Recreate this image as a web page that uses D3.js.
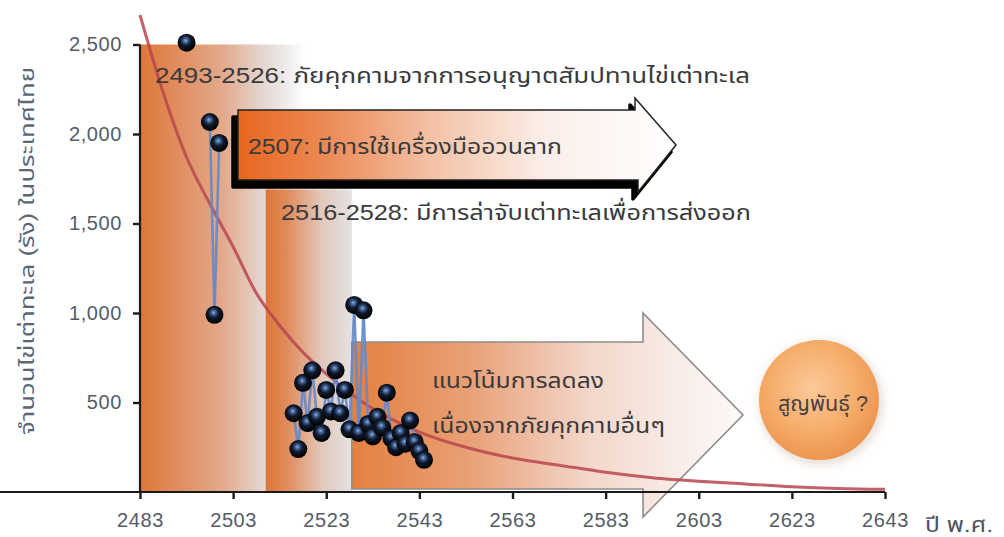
<!DOCTYPE html>
<html>
<head>
<meta charset="utf-8">
<script src="https://cdn.jsdelivr.net/npm/d3@7"></script>
<style>
  body { margin: 0; background: #fff; }
  svg { display: block; }
  text { font-family: "Liberation Sans", Arial, "Noto Sans Thai", Loma, Garuda, sans-serif; }
</style>
</head>
<body>
<svg id="chart" width="1004" height="537"></svg>
<script>
// Axis ticks
const xTicks = [2483, 2503, 2523, 2543, 2563, 2583, 2603, 2623, 2643];
const yTicks = [500, 1000, 1500, 2000, 2500];

// Sea turtle nests counted per year (B.E.)
const nestYears = [2493, 2498, 2499, 2500,
  2516, 2517, 2518, 2519, 2520, 2521, 2522, 2523, 2524, 2525, 2526, 2527, 2528, 2529, 2530,
  2531, 2532, 2533, 2534, 2535, 2536, 2537, 2538, 2539, 2540, 2541, 2542, 2543, 2544];
const nestCounts = [2510, 2067, 990, 1950,
  440, 240, 610, 385, 680, 420, 330, 570, 450, 680, 440, 570, 350, 1045, 330,
  1015, 380, 310, 420, 360, 555, 300, 250, 330, 270, 400, 280, 230, 180];

// Declining trend line
const trendYears = [2483, 2488, 2493, 2498, 2503, 2508, 2513, 2518, 2523, 2528, 2533, 2538, 2543,
  2553, 2563, 2573, 2583, 2593, 2603, 2613, 2623, 2633, 2643];
const trendValues = [2665, 2230, 1870, 1610, 1370, 1110, 930, 780, 660, 555, 465, 395, 335,
  250, 190, 150, 110, 80, 60, 45, 30, 20, 15];

// Shaded threat periods: start year, end of fade, top value
const periodStart = [2483, 2510];
const periodEnd = [2518.5, 2528.5];
const periodTop = [2500, 1690];

const annotations = [
  "2493-2526: ภัยคุกคามจากการอนุญาตสัมปทานไข่เต่าทะเล",
  "2507: มีการใช้เครื่องมืออวนลาก",
  "2516-2528: มีการล่าจับเต่าทะเลเพื่อการส่งออก",
  "แนวโน้มการลดลง",
  "เนื่องจากภัยคุกคามอื่นๆ",
  "สูญพันธุ์ ?"
];
const yLabel = "จำนวนไข่เต่าทะเล (รัง) ในประเทศไทย";
const xLabel = "ปี พ.ศ.";

const svg = d3.select("#chart");
const x = d3.scaleLinear().domain([2483, 2643]).range([140, 885]);
const y = d3.scaleLinear().domain([0, 2500]).range([492, 44.5]);

const defs = svg.append("defs");
function linGrad(id, stops) {
  const g = defs.append("linearGradient").attr("id", id)
    .attr("x1", "0%").attr("x2", "100%").attr("y1", "0%").attr("y2", "0%");
  stops.forEach(([o, c]) => g.append("stop").attr("offset", o).attr("stop-color", c));
}
linGrad("band0", [[0, "#dd7638"], [0.12, "#df834d"], [0.5, "#e3a98b"], [0.72, "#e4d3cb"], [0.86, "#ebe8e7"], [1, "#ffffff"]]);
linGrad("band1", [[0, "#de7637"], [0.25, "#e08c5d"], [0.65, "#e2c8bb"], [1, "#e4e2e2"]]);
linGrad("trend", [[0, "#e4803f"], [0.3, "#e9a076"], [0.6, "#f3d6c9"], [0.85, "#f9eeea"], [1, "#fdf8f7"]]);
linGrad("trawl", [[0, "#e8661f"], [0.2, "#ec8a55"], [0.45, "#f4c3a8"], [0.7, "#fbeee8"], [1, "#ffffff"]]);

const rg = defs.append("radialGradient").attr("id", "egg").attr("cx", "45%").attr("cy", "38%").attr("r", "58%");
[[0, "#8fb0de"], [0.22, "#3f5f92"], [0.5, "#111a2c"], [1, "#000"]]
  .forEach(([o, c]) => rg.append("stop").attr("offset", o).attr("stop-color", c));

const cg = defs.append("radialGradient").attr("id", "ball").attr("cx", "45%").attr("cy", "40%").attr("r", "60%");
[[0, "#fcc99a"], [0.6, "#f6ad6b"], [1, "#ec9550"]]
  .forEach(([o, c]) => cg.append("stop").attr("offset", o).attr("stop-color", c));

defs.append("filter").attr("id", "soft").attr("x", "-30%").attr("y", "-30%").attr("width", "160%").attr("height", "160%")
  .append("feGaussianBlur").attr("stdDeviation", 4);
defs.append("filter").attr("id", "slight")
  .append("feGaussianBlur").attr("stdDeviation", 0.6);

// Shaded periods
periodStart.forEach((s, i) => {
  svg.append("rect")
    .attr("x", x(s)).attr("y", y(periodTop[i]))
    .attr("width", x(periodEnd[i]) - x(s)).attr("height", y(0) - y(periodTop[i]))
    .attr("fill", `url(#band${i})`);
});

// Large arrow: declining trend
{
  const x0 = x(2528.5), xb = 643, xt = 743, yc = 415;
  const pts = [[x0, 342], [xb, 342], [xb, 313], [xt, yc], [xb, 517], [xb, 489], [x0, 489]];
  svg.append("path").attr("d", "M" + pts.join("L") + "Z")
    .attr("fill", "url(#trend)").attr("stroke", "#8d8d8d").attr("stroke-width", 1.6);
}

// Black-outlined arrow: trawl nets
{
  const pts = [[238, 110], [635, 110], [635, 98], [676, 145], [638, 192], [638, 180], [238, 180]];
  const d = "M" + pts.join("L") + "Z";
  svg.append("path").attr("d", d).attr("transform", "translate(-5,7)")
    .attr("fill", "#000").attr("stroke", "#000").attr("stroke-width", 3.5).attr("stroke-linejoin", "round");
  svg.append("path").attr("d", d)
    .attr("fill", "url(#trawl)").attr("stroke", "#222").attr("stroke-width", 1.5);
}

// Extinction bubble
svg.append("circle").attr("cx", 821).attr("cy", 403).attr("r", 62)
  .attr("fill", "#d9c8bc").attr("opacity", 0.6).attr("filter", "url(#soft)");
svg.append("circle").attr("cx", 819).attr("cy", 400).attr("r", 60).attr("fill", "url(#ball)");

// Trend curve
svg.append("path")
  .datum(trendYears.map((t, i) => [t, trendValues[i]]))
  .attr("d", d3.line().x(d => x(d[0])).y(d => y(d[1])).curve(d3.curveMonotoneX))
  .attr("fill", "none").attr("stroke", "#b8454e").attr("stroke-width", 3).attr("opacity", 0.85);

// Axes
const gx = svg.append("g").attr("transform", `translate(0,${y(0)})`)
  .call(d3.axisBottom(x).tickValues(xTicks).tickFormat(d3.format("d")).tickSize(7).tickPadding(14));
const gy = svg.append("g").attr("transform", `translate(${x(2483)},0)`)
  .call(d3.axisLeft(y).tickValues(yTicks).tickFormat(d3.format(",")).tickSize(7).tickPadding(11));
[gx, gy].forEach(g => {
  g.select(".domain").attr("stroke", "#1a1a1a").attr("stroke-width", 2.2);
  g.selectAll(".tick line").attr("stroke", "#1a1a1a").attr("stroke-width", 2.4);
  g.selectAll(".tick text").attr("fill", "#565c66").attr("font-size", 20)
    .attr("font-family", "'Liberation Sans', Arial, sans-serif").style("letter-spacing", "0.6px");
});
gy.select(".domain").attr("d", `M0,${y(2500)}V${y(0)}`);
gx.select(".domain").attr("d", `M0,0H${x(2643)}`);

// Nest counts: connect consecutive years only
const pairs = nestYears.map((t, i) => [t, nestCounts[i]]);
for (let i = 1; i < pairs.length; i++) {
  if (pairs[i][0] - pairs[i - 1][0] === 1) {
    svg.append("line")
      .attr("x1", x(pairs[i - 1][0])).attr("y1", y(pairs[i - 1][1]))
      .attr("x2", x(pairs[i][0])).attr("y2", y(pairs[i][1]))
      .attr("stroke", "#6489c9").attr("stroke-width", 2.6).attr("opacity", 0.9);
  }
}
svg.append("g").selectAll("circle").data(pairs).join("circle")
  .attr("cx", d => x(d[0])).attr("cy", d => y(d[1])).attr("r", 9)
  .attr("fill", "url(#egg)").attr("filter", "url(#slight)");

// Annotation texts, stretched to their printed widths
const txt = (s, tx, ty, size, len, anchor = "start", fill = "#3a3a3c") => {
  const t = svg.append("text").attr("x", tx).attr("y", ty).attr("font-size", size)
    .attr("text-anchor", anchor).attr("fill", fill).text(s);
  if (len) t.attr("textLength", len).attr("lengthAdjust", "spacingAndGlyphs");
  return t;
};
txt(annotations[0], 155, 83, 22, 595);
txt(annotations[1], 248, 154, 22, 314);
txt(annotations[2], 281, 220, 22, 470);
txt(annotations[3], 432, 388, 22, 172);
txt(annotations[4], 432, 433, 22, 233);
txt(annotations[5], 823, 411, 22, 90, "middle", "#4a4040");

// Axis titles
txt(xLabel, 925, 532, 21, 68, "start", "#4d535c");
svg.append("text").attr("transform", "translate(34,251) rotate(-90)")
  .attr("text-anchor", "middle").attr("font-size", 20).attr("fill", "#5b6573")
  .attr("textLength", 368).attr("lengthAdjust", "spacingAndGlyphs").text(yLabel);
</script>
</body>
</html>
